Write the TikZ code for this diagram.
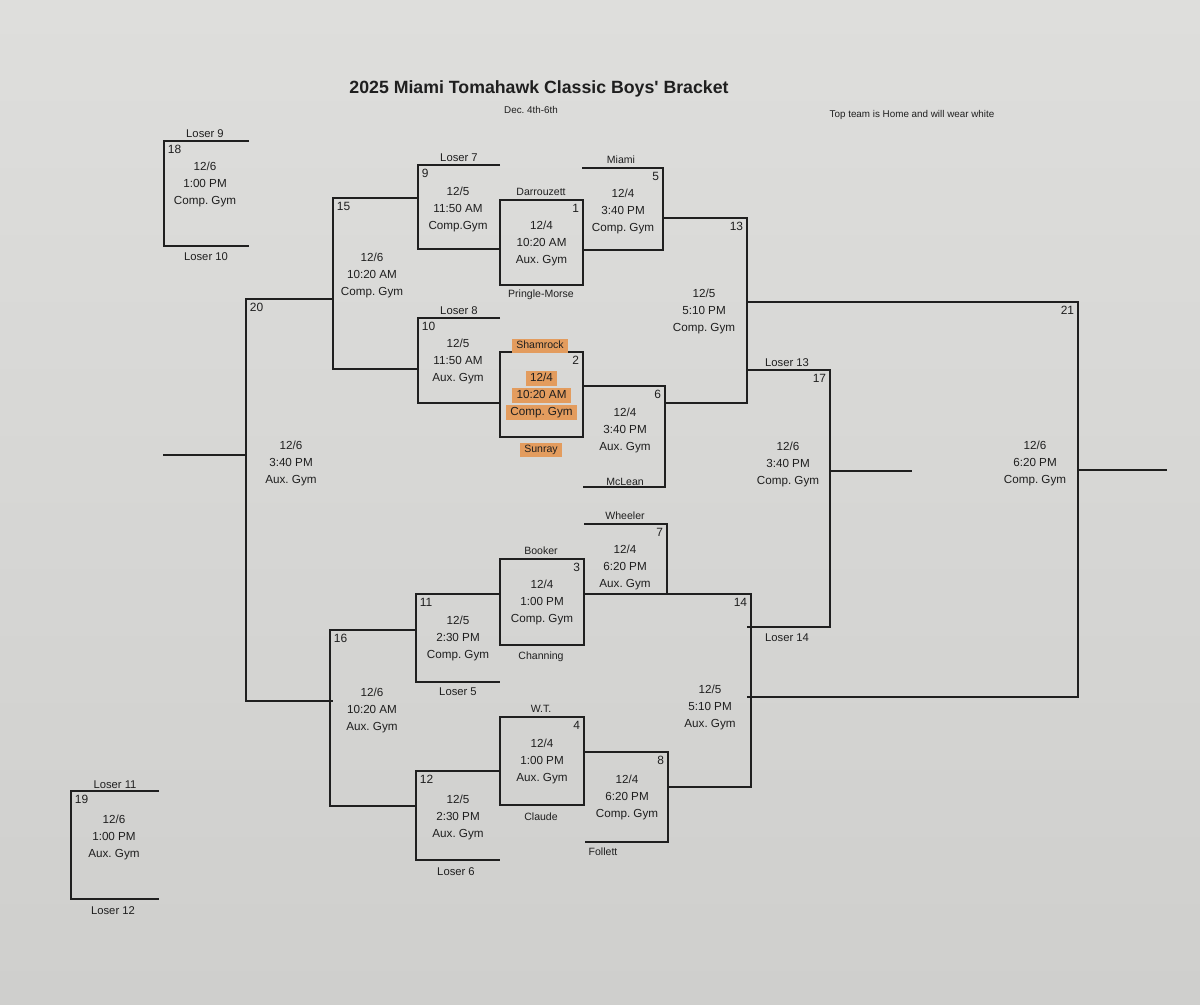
\documentclass[tikz,border=0pt]{standalone}
\usepackage{fontspec}
\setmainfont{Liberation Sans}
\usetikzlibrary{positioning}
\frenchspacing
\definecolor{PaperTop}{HTML}{DEDEDC}
\definecolor{PaperBottom}{HTML}{CFCFCD}
\definecolor{InkGrey}{HTML}{1F1F1F}
\definecolor{MarkerOrange}{HTML}{E39C5E}

\begin{document}
\begin{tikzpicture}[x=0.025cm,y=-0.025cm,
  every node/.style={text=InkGrey},
  bracketline/.style={draw=InkGrey,line width=1pt},
  gametext/.style={font=\fontsize{8.3}{10}\selectfont,text height=6pt,text depth=1.8pt,inner sep=1.2pt},
  gamenum/.style={font=\fontsize{8.5}{10}\selectfont,inner sep=2.6pt},
  teamtext/.style={font=\fontsize{7.5}{9}\selectfont,text height=5.5pt,text depth=1.6pt,inner sep=1.2pt},
  losertext/.style={font=\fontsize{8}{9}\selectfont},
  nomark/.style={},
  marked/.style={fill=MarkerOrange,inner xsep=3pt}]

  % paper
  \shade[top color=PaperTop,bottom color=PaperBottom] (0,0) rectangle (1200,1004);
  \useasboundingbox (0,0) rectangle (1200,1004);

  % heading
  \node[font=\bfseries\fontsize{12.6}{14}\selectfont] (title) at (539,89) {2025 Miami Tomahawk Classic Boys\textquotesingle{} Bracket};
  \node[font=\fontsize{7}{8}\selectfont] (dates) at (531,110) {Dec. 4th-6th};
  \node[font=\fontsize{7}{8}\selectfont] (homenote) at (912,115) {Top team is Home and will wear white};

  % first round: closed boxes
  \foreach \n/\xl/\xr/\yt/\yb/\dt/\tm/\gym/\mk in {
      1/500/583/200/285/{12/4}/{10:20 AM}/{Aux. Gym}/nomark,
      2/500/583/352/437/{12/4}/{10:20 AM}/{Comp. Gym}/marked,
      3/500/584/559/645/{12/4}/{1:00 PM}/{Comp. Gym}/nomark,
      4/500/584/717/805/{12/4}/{1:00 PM}/{Aux. Gym}/nomark}{
    \draw[bracketline] (\xl,\yt) rectangle (\xr,\yb);
    \node[gamenum,anchor=north east] (n\n) at (\xr,\yt) {\n};
    \node[gametext,\mk] (d\n) at ({(\xl+\xr)/2},{(\yt+\yb)/2-16}) {\dt};
    \node[gametext,\mk] (t\n) at ({(\xl+\xr)/2},{(\yt+\yb)/2+1}) {\tm};
    \node[gametext,\mk] (p\n) at ({(\xl+\xr)/2},{(\yt+\yb)/2+18}) {\gym};
  }

  % brackets opening to the left
  \foreach \n/\xl/\xr/\yt/\yb/\cx/\cy/\dt/\tm/\gym in {
      5/582/663/168/250/623/212/{12/4}/{3:40 PM}/{Comp. Gym},
      6/583/665/386/487/625/431/{12/4}/{3:40 PM}/{Aux. Gym},
      7/584/667/524/594/625/568/{12/4}/{6:20 PM}/{Aux. Gym},
      8/585/668/752/842/627/798/{12/4}/{6:20 PM}/{Comp. Gym},
      13/664/747/218/403/704/312/{12/5}/{5:10 PM}/{Comp. Gym},
      14/668/751/594/787/710/708/{12/5}/{5:10 PM}/{Aux. Gym},
      17/747/830/370/627/788/465/{12/6}/{3:40 PM}/{Comp. Gym},
      21/747/1078/302/697/1035/464/{12/6}/{6:20 PM}/{Comp. Gym}}{
    \draw[bracketline] (\xl,\yt) -| (\xr,\yb) -- (\xl,\yb);
    \node[gamenum,anchor=north east] (n\n) at (\xr,\yt) {\n};
    \node[gametext] (d\n) at (\cx,\cy-17) {\dt};
    \node[gametext] (t\n) at (\cx,\cy) {\tm};
    \node[gametext] (p\n) at (\cx,\cy+17) {\gym};
  }

  % brackets opening to the right
  \foreach \n/\xl/\xr/\yt/\yb/\cx/\cy/\dt/\tm/\gym in {
      9/418/500/165/249/458/210/{12/5}/{11:50 AM}/{Comp.Gym},
      10/418/500/318/403/458/362/{12/5}/{11:50 AM}/{Aux. Gym},
      11/416/500/594/682/458/639/{12/5}/{2:30 PM}/{Comp. Gym},
      12/416/500/771/860/458/818/{12/5}/{2:30 PM}/{Aux. Gym},
      15/333/418/198/369/372/276/{12/6}/{10:20 AM}/{Comp. Gym},
      16/330/416/630/806/372/711/{12/6}/{10:20 AM}/{Aux. Gym},
      18/164/249/141/246/205/185/{12/6}/{1:00 PM}/{Comp. Gym},
      19/71/159/791/899/114/838/{12/6}/{1:00 PM}/{Aux. Gym},
      20/246/333/299/701/291/464/{12/6}/{3:40 PM}/{Aux. Gym}}{
    \draw[bracketline] (\xr,\yt) -| (\xl,\yb) -- (\xr,\yb);
    \node[gamenum,anchor=north west] (n\n) at (\xl,\yt) {\n};
    \node[gametext] (d\n) at (\cx,\cy-17) {\dt};
    \node[gametext] (t\n) at (\cx,\cy) {\tm};
    \node[gametext] (p\n) at (\cx,\cy+17) {\gym};
  }

  % winner tails
  \coordinate (out20) at (246,455);  \coordinate (tail20) at (163,455);
  \coordinate (out17) at (830,471);  \coordinate (tail17) at (912,471);
  \coordinate (out21) at (1078,470); \coordinate (tail21) at (1167,470);
  \draw[bracketline] (out20) -- (tail20);
  \draw[bracketline] (out17) -- (tail17);
  \draw[bracketline] (out21) -- (tail21);

  % teams
  \foreach \id/\x/\y/\team/\mk in {
      darrouzett/541/193/Darrouzett/nomark, pringle/541/295/Pringle-Morse/nomark,
      shamrock/540/346/Shamrock/marked, sunray/541/450/Sunray/marked,
      booker/541/552/Booker/nomark, channing/541/657/Channing/nomark,
      wt/541/710/W.T./nomark, claude/541/818/Claude/nomark,
      miami/621/161/Miami/nomark, mclean/625/483/McLean/nomark,
      wheeler/625/517/Wheeler/nomark, follett/603/853/Follett/nomark}
    \node[teamtext,\mk] (\id) at (\x,\y) {\team};

  % losers
  \foreach \id/\x/\y/\txt in {
      los9/205/134/Loser 9, los10/206/257/Loser 10,
      los11/115/785/Loser 11, los12/113/911/Loser 12,
      los7/459/158/Loser 7, los8/459/311/Loser 8,
      los5/458/692/Loser 5, los6/456/872/Loser 6,
      los13/787/363/Loser 13, los14/787/638/Loser 14}
    \node[losertext] (\id) at (\x,\y) {\txt};
\end{tikzpicture}
\end{document}
